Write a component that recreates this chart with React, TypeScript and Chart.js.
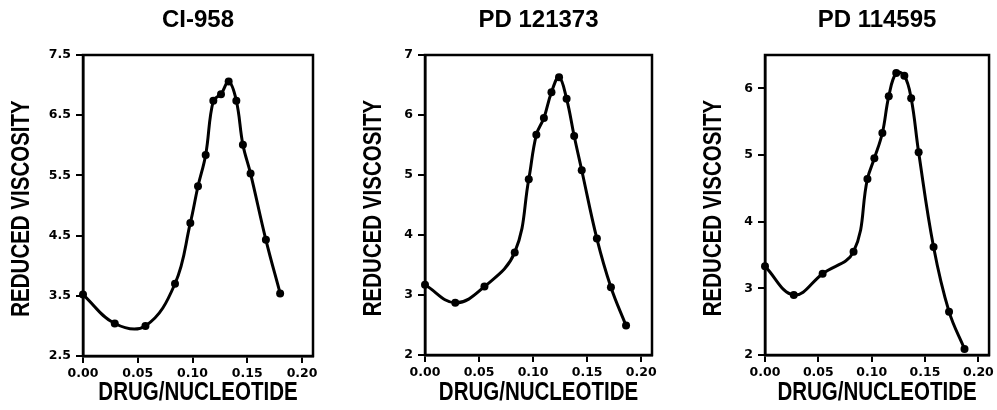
import React, { useEffect, useRef } from "react";
import { Chart, registerables } from "chart.js";

Chart.register(...registerables);

// ---------- data ----------
const X_TICKS = [0, 0.05, 0.1, 0.15, 0.2];

const ci958X = [0, 0.029, 0.057, 0.084, 0.098, 0.105, 0.112, 0.119, 0.126, 0.133, 0.14, 0.146, 0.153, 0.167, 0.18];
const ci958Y = [3.52, 3.04, 3.0, 3.7, 4.71, 5.32, 5.84, 6.74, 6.85, 7.06, 6.74, 6.01, 5.53, 4.43, 3.54];
const ci958Ticks = [2.5, 3.5, 4.5, 5.5, 6.5, 7.5];

const pd121373X = [0, 0.028, 0.055, 0.083, 0.096, 0.103, 0.11, 0.117, 0.124, 0.131, 0.138, 0.145, 0.159, 0.172, 0.186];
const pd121373Y = [3.17, 2.87, 3.14, 3.71, 4.93, 5.67, 5.95, 6.38, 6.63, 6.27, 5.65, 5.08, 3.94, 3.13, 2.49];
const pd121373Ticks = [2, 3, 4, 5, 6, 7];

const pd114595X = [0, 0.027, 0.054, 0.083, 0.096, 0.1025, 0.11, 0.116, 0.123, 0.1306, 0.137, 0.144, 0.158, 0.1725, 0.187];
const pd114595Y = [3.33, 2.9, 3.22, 3.55, 4.64, 4.95, 5.33, 5.88, 6.23, 6.19, 5.85, 5.04, 3.62, 2.65, 2.09];
const pd114595Ticks = [2, 3, 4, 5, 6];

const X_TITLE = "DRUG/NUCLEOTIDE";
const Y_TITLE = "REDUCED VISCOSITY";

// ---------- styling ----------
const TICK_FONT = { family: "'DejaVu Sans', sans-serif", weight: "bold" as const, size: 12.5 };
const AXIS_TITLE_FONT = "bold 25px 'Liberation Sans', sans-serif";
const AXIS_TITLE_SQUEEZE = 0.82;
const TITLE_FONT = "bold 24px 'Liberation Sans', sans-serif";

type Spec = {
  title: string;
  xs: number[];
  ys: number[];
  yMin: number;
  yMax: number;
  yTicks: number[];
  yDec: number;
  left: number;
  width: number;
  axisWidth: number;
  rightPad: number;
  bottom: number;
  yTitleX: number;
};

const specs: Spec[] = [
  { title: "CI-958", xs: ci958X, ys: ci958Y, yMin: 2.5, yMax: 7.5, yTicks: ci958Ticks, yDec: 1, left: 0, width: 330, axisWidth: 83, rightPad: 17, bottom: 356, yTitleX: 22 },
  { title: "PD 121373", xs: pd121373X, ys: pd121373Y, yMin: 2, yMax: 7, yTicks: pd121373Ticks, yDec: 0, left: 330, width: 330, axisWidth: 95, rightPad: 8, bottom: 355, yTitleX: 44.5 },
  { title: "PD 114595", xs: pd114595X, ys: pd114595Y, yMin: 2, yMax: 6.5, yTicks: pd114595Ticks, yDec: 0, left: 660, width: 337, axisWidth: 105, rightPad: 4, bottom: 355, yTitleX: 54 },
];

const framePlugin = {
  id: "frame",
  afterDatasetsDraw(chart: any) {
    const { ctx, chartArea } = chart;
    ctx.save();
    ctx.strokeStyle = "#000";
    ctx.lineWidth = 2.5;
    ctx.strokeRect(chartArea.left, chartArea.top, chartArea.right - chartArea.left, chartArea.bottom - chartArea.top);
    ctx.restore();
  },
};

function makeTextPlugin(spec: Spec) {
  return {
    id: "panelTexts",
    afterDraw(chart: any) {
      const { ctx, chartArea } = chart;
      const cx = (chartArea.left + chartArea.right) / 2;
      const cy = (chartArea.top + chartArea.bottom) / 2;
      ctx.save();
      ctx.fillStyle = "#000";
      ctx.textAlign = "center";
      ctx.textBaseline = "middle";
      // panel title
      ctx.font = TITLE_FONT;
      ctx.fillText(spec.title, cx, 20.5);
      // x axis title
      ctx.font = AXIS_TITLE_FONT;
      ctx.save();
      ctx.translate(cx, 393);
      ctx.scale(AXIS_TITLE_SQUEEZE, 1);
      ctx.fillText(X_TITLE, 0, 0);
      ctx.restore();
      // y axis title
      ctx.save();
      ctx.translate(spec.yTitleX, cy + 3);
      ctx.rotate(-Math.PI / 2);
      ctx.scale(AXIS_TITLE_SQUEEZE, 1);
      ctx.fillText(Y_TITLE, 0, 0);
      ctx.restore();
      ctx.restore();
    },
  };
}

function Panel({ spec }: { spec: Spec }) {
  const ref = useRef<HTMLCanvasElement>(null);
  useEffect(() => {
    const chart = new Chart(ref.current as HTMLCanvasElement, {
      type: "line",
      data: {
        datasets: [
          {
            data: spec.xs.map((x, i) => ({ x, y: spec.ys[i] })),
            borderColor: "#000",
            backgroundColor: "#000",
            borderWidth: 3,
            pointRadius: 4,
            pointBackgroundColor: "#000",
            pointBorderWidth: 0,
            tension: 0.4,
            fill: false,
            clip: false as any,
          },
        ],
      },
      options: {
        responsive: false,
        animation: false,
        devicePixelRatio: 1,
        layout: { padding: { top: 55, right: spec.rightPad, left: 0, bottom: 0 } },
        plugins: { legend: { display: false }, tooltip: { enabled: false }, title: { display: false } },
        scales: {
          x: {
            type: "linear",
            min: 0,
            max: 0.21,
            afterBuildTicks: (s: any) => {
              s.ticks = X_TICKS.map((v) => ({ value: v }));
            },
            afterFit: (s: any) => {
              s.height = 410 - spec.bottom;
            },
            grid: { display: true, drawOnChartArea: false, drawTicks: true, tickLength: 7, color: "#000", lineWidth: 2 },
            border: { display: true, color: "#000", width: 2.5 },
            ticks: {
              font: TICK_FONT,
              color: "#000",
              padding: 3,
              maxRotation: 0,
              autoSkip: false,
              callback: (v: any) => Number(v).toFixed(2),
            },
          },
          y: {
            type: "linear",
            min: spec.yMin,
            max: spec.yMax,
            afterBuildTicks: (s: any) => {
              s.ticks = spec.yTicks.map((v) => ({ value: v }));
            },
            afterFit: (s: any) => {
              s.width = spec.axisWidth;
            },
            grid: { display: true, drawOnChartArea: false, drawTicks: true, tickLength: 7, color: "#000", lineWidth: 2 },
            border: { display: true, color: "#000", width: 2.5 },
            ticks: {
              font: TICK_FONT,
              color: "#000",
              padding: 5,
              autoSkip: false,
              callback: (v: any) => Number(v).toFixed(spec.yDec),
            },
          },
        },
      } as any,
      plugins: [framePlugin, makeTextPlugin(spec)],
    });
    return () => chart.destroy();
  }, []);
  return (
    <canvas
      ref={ref}
      width={spec.width}
      height={410}
      style={{ position: "absolute", left: spec.left, top: 0, width: spec.width, height: 410 }}
    />
  );
}

export default function App() {
  return (
    <div style={{ position: "fixed", left: 0, top: 0, width: 997, height: 410, background: "#fff", overflow: "hidden" }}>
      {specs.map((s) => (
        <Panel key={s.title} spec={s} />
      ))}
    </div>
  );
}
